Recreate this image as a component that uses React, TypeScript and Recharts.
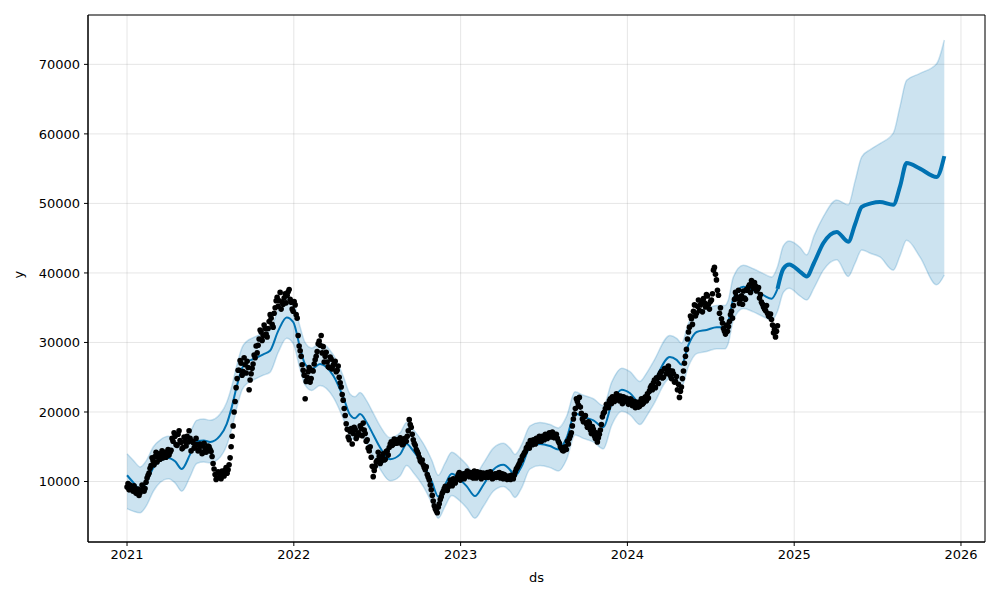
import React from "react";
import {
  ComposedChart,
  Area,
  Line,
  Scatter,
  XAxis,
  YAxis,
  CartesianGrid,
  ReferenceArea,
} from "recharts";

// Prophet-style forecast: observed points (black), yhat (blue), uncertainty band.

const PROPHET_BLUE = "#0072B2";
const HISTORY_END = 2024.9;
const X_DOMAIN: [number, number] = [2020.766, 2026.144];
const Y_DOMAIN: [number, number] = [1300, 77100];

// forecast curve sampled at decimal years
const FC_YEARS = [
  2021.0, 2021.04, 2021.078, 2021.118, 2021.158, 2021.2, 2021.248, 2021.288, 2021.328, 2021.378,
  2021.418, 2021.46, 2021.498, 2021.558, 2021.598, 2021.628, 2021.658, 2021.69, 2021.72, 2021.757,
  2021.817, 2021.857, 2021.907, 2021.957, 2021.997, 2022.037, 2022.067, 2022.107, 2022.157, 2022.237,
  2022.297, 2022.337, 2022.367, 2022.397, 2022.437, 2022.477, 2022.517, 2022.577, 2022.637, 2022.677,
  2022.716, 2022.776, 2022.827, 2022.866, 2022.906, 2022.947, 2022.996, 2023.037, 2023.086, 2023.136,
  2023.196, 2023.256, 2023.296, 2023.326, 2023.366, 2023.416, 2023.476, 2023.536, 2023.586, 2023.636,
  2023.686, 2023.736, 2023.796, 2023.856, 2023.906, 2023.966, 2024.016, 2024.075, 2024.115, 2024.155,
  2024.255, 2024.295, 2024.325, 2024.365, 2024.415, 2024.475, 2024.535, 2024.585, 2024.605, 2024.635,
  2024.695, 2024.755, 2024.815, 2024.865, 2024.9, 2024.935, 2024.97, 2025.034, 2025.075, 2025.12,
  2025.175, 2025.255, 2025.324, 2025.365, 2025.405, 2025.46, 2025.514, 2025.594, 2025.635, 2025.674,
  2025.754, 2025.854, 2025.9,
];

const FC_YHAT = [
  10900, 9800, 8900, 10000, 12000, 13000, 13400, 12900, 11800, 13900,
  15800, 15900, 15700, 16600, 18300, 20700, 23700, 26300, 27200, 27600,
  28300, 28800, 31700, 33600, 32900, 29300, 26900, 26200, 26900, 25200,
  22100, 19600, 19100, 19700, 18500, 16700, 14900, 13200, 13900, 15400,
  14400, 12400, 10000, 7800, 9500, 11100, 10300, 9300, 7900, 9500,
  11700, 12400, 11700, 10800, 12200, 14900, 15400, 15100, 14600, 16300,
  19800, 19300, 18800, 17800, 21200, 23200, 22700, 21300, 22500, 24100,
  27900, 27500, 26800, 29600, 31500, 31800, 32200, 32200, 33000, 36300,
  38000, 37500, 36800, 36300, 37700, 40600, 41200, 40200, 39500, 41500,
  44300, 45900, 44500, 47000, 49500, 50000, 50200, 49800, 52500, 55800,
  55000, 53800, 56800,
];

const FC_LOWER = [
  6100, 5700, 5500, 6600, 8600, 9900, 10400, 9800, 8600, 10700,
  12600, 12800, 12700, 13500, 15200, 17600, 20600, 23200, 24100, 24600,
  25300, 25700, 28600, 30600, 29800, 26200, 23900, 23100, 23800, 22100,
  19000, 16500, 16000, 16600, 15400, 13600, 11800, 10100, 10800, 12300,
  11300, 9300, 6900, 4700, 6400, 8000, 7200, 6200, 4700, 6400,
  8600, 9300, 8600, 7700, 9100, 11800, 12300, 12000, 11500, 13200,
  16700, 16200, 15700, 14700, 18100, 20100, 19600, 18200, 19400, 21000,
  24800, 24400, 23700, 26500, 28400, 28700, 29100, 29100, 29900, 33200,
  34900, 34400, 33700, 33200, 34500, 37200, 37800, 36700, 36100, 37900,
  40400, 41900, 39500, 41400, 43300, 42800, 42300, 40400, 42500, 44700,
  42300, 38300, 39700,
];

const FC_UPPER = [
  14000, 13000, 12100, 13100, 15000, 16000, 16500, 15900, 14800, 17000,
  18800, 19000, 18800, 19700, 21400, 23700, 26700, 29300, 30200, 30700,
  31400, 31900, 34700, 36700, 35900, 32300, 30000, 29200, 29900, 28200,
  25100, 22600, 22200, 22800, 21600, 19800, 18000, 16300, 17000, 18500,
  17500, 15500, 13100, 10900, 12600, 14200, 13400, 12400, 11000, 12600,
  14800, 15500, 14800, 13900, 15300, 18000, 18500, 18200, 17700, 19400,
  22900, 22400, 21900, 20900, 24300, 26300, 25800, 24400, 25600, 27200,
  31000, 30600, 29900, 32700, 34600, 34900, 35300, 35300, 36100, 39400,
  41100, 40600, 39900, 39400, 40900, 43900, 44600, 43700, 42600, 45400,
  48100, 50500, 49800, 53200, 56700, 57800, 58600, 60100, 64000, 67700,
  68700, 70100, 73500,
];

// observed values, one every ~4.4 days starting 2021-01-01
const OBS_START = 2021.0;
const OBS_STEP = 0.012;
const OBS_VALUES = [
  9200, 8800, 9300, 8600, 9000, 8500, 8000, 8700, 9200, 9000,
  10500, 11200, 12300, 13000, 13600, 12800, 14000, 13700, 13400, 14200,
  14000, 13800, 14500, 15800, 16500, 15200, 17300, 15600, 14900, 15800,
  16500, 17300, 14400, 15600, 15000, 15300, 14600, 15100, 14200, 14800,
  14400, 15000, 14300, 12600, 11000, 10500, 11200, 10400, 11000, 11600,
  11200, 12400, 15000, 18000, 21500, 24800, 26000, 27000, 25800, 26800,
  27300, 23200, 25500, 26900, 27800, 28500, 30500, 31500, 31000, 32000,
  30800, 33000, 33500, 32200, 35000, 36500, 36000, 34800, 35500, 37000,
  36800, 37600, 35800, 34500, 35400, 33500, 29500, 28000, 26000, 21900,
  25000, 26400, 24800, 25900, 27500, 28700, 30200, 31000, 29400, 28000,
  27200, 26400, 27600, 26700, 27300, 26000, 25000, 23600, 21700, 19500,
  17500, 16000, 17600, 16900, 17500, 16500, 16800, 17600, 18400, 16900,
  16000, 14400, 13500, 10700, 12200, 13000, 13600, 12900, 14000, 13200,
  14400, 14900, 15700, 15400, 15800, 16000, 15600, 15900, 15400, 16200,
  16500, 18900, 17800, 16000, 15200, 14300, 13500, 12800, 12400, 11700,
  11000, 10200, 8800, 7200, 6100, 5500, 6800, 7800, 8600, 9300,
  8700, 9600, 9900, 10400, 9800, 10600, 11300, 10500, 11100, 10800,
  11500, 10700, 11200, 10500, 11000, 11400, 10900, 10400, 11200, 10600,
  11300, 10800, 11000, 10500, 11100, 10700, 11300, 10900, 10400, 10800,
  10300, 10600, 10900, 10400, 11400, 12000, 12600, 13100, 13800, 14300,
  15000, 14800, 15600, 16000, 15400, 16100, 16500, 15800, 16300, 16800,
  16200, 17000, 16400, 16900, 16600, 16200, 15500, 14800, 14400, 15000,
  15800, 16200, 17000, 19000, 20500, 21500, 22100, 19800, 18600, 19500,
  17800, 18400, 16900, 17500, 16200, 15700, 16800, 18200, 19800, 20500,
  21000, 21600, 21200, 22100, 21800, 22400, 21600, 21900, 22200, 21500,
  21800, 21300, 21700, 21000, 20600, 21400, 20800, 21900, 21300, 22200,
  22600, 23000, 23800, 24200, 23500, 24800, 25300, 25800, 25000, 26300,
  25600, 26000, 24800, 25500, 24400, 23200, 22100, 23600, 25900, 28000,
  30500, 32200, 33400, 34500, 33800, 35200, 34600, 35900, 36300, 35100,
  36700, 34800, 36100, 40400, 39800, 37500, 34200, 33400, 32000, 31200,
  31600, 33000, 34500, 35300, 37200, 36300, 35600, 36700, 37400, 36200,
  37500, 38300, 38900, 37800, 38100, 37600, 36400, 35800, 35100, 34600,
  34200, 33700, 33300, 31400, 30800, 32400,
];

// the days in between (half a step later), which give the point clouds their spread
const OBS_VALUES_MID = [
  9700, 9500, 8900, 9400, 8300, 8900, 8400, 9500, 8600, 9900,
  10900, 11900, 13400, 12400, 14200, 13500, 13200, 14400, 14100, 13500,
  14600, 14200, 16200, 17000, 15300, 16800, 15900, 14700, 16400, 15100,
  15700, 16200, 15800, 14800, 16200, 14400, 15400, 14000, 15500, 14200,
  15100, 14600, 13600, 11800, 10300, 11400, 10600, 11500, 10800, 12000,
  11700, 13400, 16500, 20000, 23500, 26000, 27400, 25300, 27800, 25600,
  26400, 24600, 26300, 28200, 29500, 29600, 31800, 30300, 32500, 31200,
  32000, 34000, 32600, 34200, 36000, 35200, 37200, 35800, 36400, 35700,
  37300, 36200, 34800, 35900, 34000, 31000, 28800, 26800, 25300, 24400,
  25800, 24300, 26000, 26900, 28000, 29800, 29600, 28500, 27200, 28600,
  26500, 27900, 26200, 27000, 25800, 26600, 24200, 22500, 20500, 18300,
  16400, 17200, 15400, 17800, 16200, 17000, 18000, 16600, 17400, 15800,
  14800, 15000, 12200, 11600, 12800, 14200, 12600, 13600, 13100, 14300,
  13800, 15400, 15200, 16100, 15500, 15600, 16300, 15300, 16100, 15800,
  17300, 18200, 16800, 15500, 14600, 14000, 13000, 13100, 12000, 12100,
  10600, 9500, 8000, 6500, 5800, 6300, 7400, 8300, 9000, 8800,
  9200, 10200, 9400, 10000, 10300, 11000, 10200, 10900, 10400, 11200,
  11000, 11300, 10600, 11500, 10500, 10800, 11300, 11000, 10700, 11100,
  10600, 11400, 10400, 11000, 10600, 11200, 10500, 11100, 11000, 10500,
  10800, 10300, 10600, 10900, 11800, 12300, 13000, 13600, 14100, 14800,
  15400, 15900, 15300, 15700, 16200, 15800, 16000, 16500, 16000, 16400,
  16700, 16500, 17100, 16300, 16800, 15800, 15000, 14500, 14900, 14600,
  15400, 16600, 18000, 19700, 21900, 21000, 20700, 19000, 19300, 18300,
  18600, 17400, 17900, 16600, 17000, 16300, 17400, 19300, 20000, 21100,
  20600, 21900, 22200, 21500, 22600, 21800, 22300, 21200, 21700, 22000,
  21100, 21900, 20900, 21500, 21100, 20700, 21500, 21100, 22000, 21600,
  22000, 23500, 23200, 24600, 24900, 24100, 25600, 24900, 26200, 25500,
  26600, 25200, 25900, 24300, 25100, 24000, 23000, 24800, 27000, 29000,
  31500, 33800, 32600, 35400, 34200, 36100, 35400, 34400, 35700, 36900,
  35500, 35900, 37000, 40800, 39000, 36800, 35000, 32800, 31600, 32500,
  32300, 34000, 33500, 36200, 36600, 37500, 36200, 35500, 36400, 37600,
  38000, 37200, 38400, 38600, 37400, 37900, 36900, 35500, 34800, 35300,
  33800, 34100, 32500, 31900, 31600,
];

const X_TICKS = [2021, 2022, 2023, 2024, 2025, 2026];
const Y_TICKS = [10000, 20000, 30000, 40000, 50000, 60000, 70000];

const forecastData = FC_YEARS.map((ds, i) => ({
  ds,
  band: [FC_LOWER[i], FC_UPPER[i]],
  yhatHist: ds <= HISTORY_END ? FC_YHAT[i] : null,
  yhatFut: ds >= HISTORY_END ? FC_YHAT[i] : null,
}));

const obsData = [
  ...OBS_VALUES.map((y, i) => ({ ds: OBS_START + i * OBS_STEP, y })),
  ...OBS_VALUES_MID.map((y, i) => ({ ds: OBS_START + (i + 0.5) * OBS_STEP, y })),
];

const tickStyle = { fontSize: 13, fill: "#000" };

function Dot(props: any) {
  const { cx, cy } = props;
  if (cx == null || cy == null) return null;
  return <circle cx={cx} cy={cy} r={2.8} fill="#000" />;
}

export default function App() {
  return (
    <div style={{ position: "absolute", left: 0, top: 0, fontFamily: "DejaVu Sans" }}>
      <ComposedChart
        width={1000}
        height={600}
        data={forecastData}
        margin={{ top: 15, right: 15, left: 0, bottom: 18 }}
      >
        <CartesianGrid stroke="#808080" strokeOpacity={0.2} strokeWidth={1} />
        <XAxis
          dataKey="ds"
          type="number"
          domain={X_DOMAIN}
          ticks={X_TICKS}
          tickFormatter={(v: number) => String(Math.round(v))}
          allowDataOverflow
          height={40}
          tick={tickStyle}
          tickSize={4}
          tickMargin={4}
          stroke="#000"
          label={{ value: "ds", position: "insideBottom", offset: 0, style: { fontSize: 13, fill: "#000" } }}
        />
        <YAxis
          type="number"
          domain={Y_DOMAIN}
          ticks={Y_TICKS}
          allowDataOverflow
          width={88}
          tick={tickStyle}
          tickSize={4}
          tickMargin={4}
          stroke="#000"
          label={{ value: "y", angle: -90, position: "insideLeft", offset: 18, style: { fontSize: 13, fill: "#000" } }}
        />
        {/* same stacking as prophet's plot: points, then yhat, then the band on top */}
        <Scatter data={obsData} dataKey="y" shape={Dot} isAnimationActive={false} />
        <Line
          dataKey="yhatHist"
          type="monotone"
          stroke={PROPHET_BLUE}
          strokeWidth={2}
          dot={false}
          activeDot={false}
          isAnimationActive={false}
        />
        <Line
          dataKey="yhatFut"
          type="monotone"
          stroke={PROPHET_BLUE}
          strokeWidth={4}
          dot={false}
          activeDot={false}
          isAnimationActive={false}
        />
        <Area
          dataKey="band"
          type="monotone"
          fill={PROPHET_BLUE}
          fillOpacity={0.2}
          stroke={PROPHET_BLUE}
          strokeOpacity={0.2}
          strokeWidth={1.5}
          isAnimationActive={false}
        />
        {/* axes frame (matplotlib spines on all four sides) */}
        <ReferenceArea
          x1={X_DOMAIN[0]}
          x2={X_DOMAIN[1]}
          y1={Y_DOMAIN[0]}
          y2={Y_DOMAIN[1]}
          fill="none"
          stroke="#000"
          strokeWidth={1}
          ifOverflow="visible"
        />
      </ComposedChart>
    </div>
  );
}
